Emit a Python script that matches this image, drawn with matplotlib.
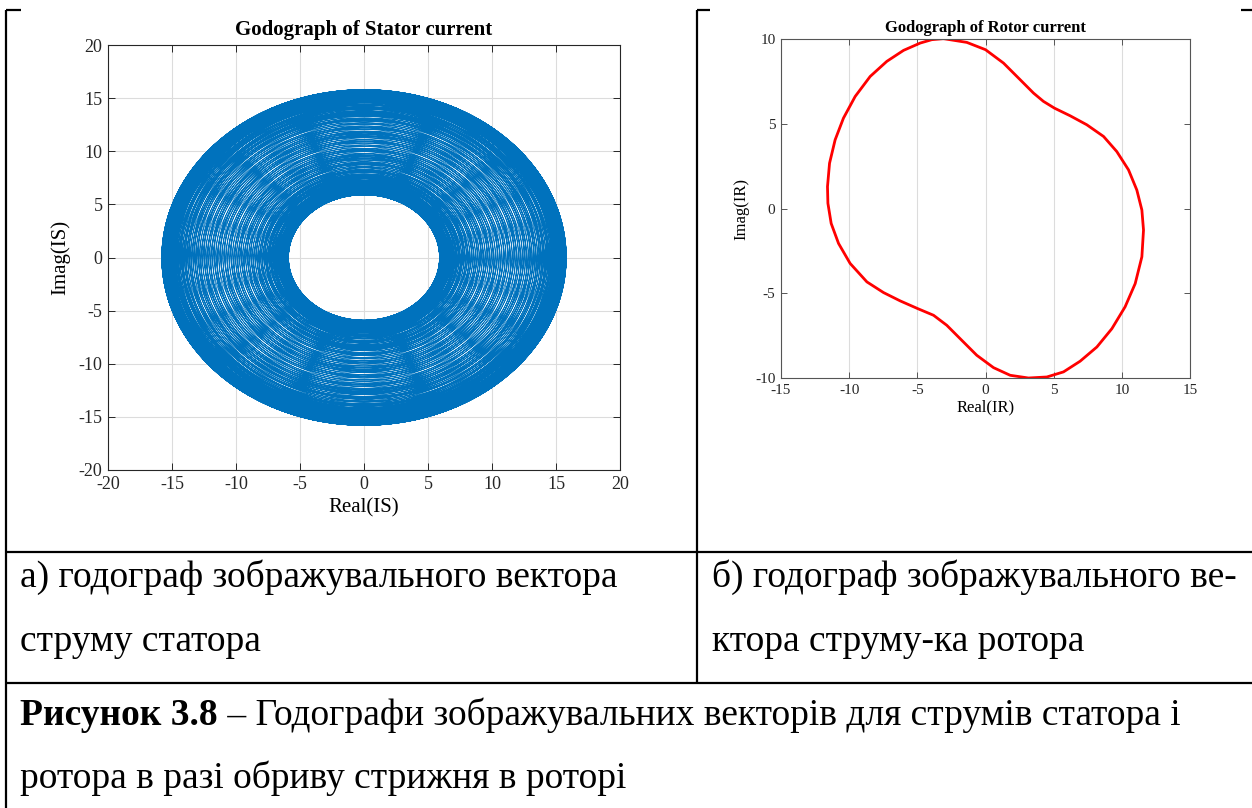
import numpy as np
import matplotlib
matplotlib.use("Agg")
import matplotlib.pyplot as plt
from matplotlib.lines import Line2D

plt.rcParams["font.family"] = ["Liberation Serif", "DejaVu Serif"]
plt.rcParams["axes.unicode_minus"] = False
plt.rcParams["path.simplify"] = False

W, H, DPI = 1252, 808, 100

# ---- Stator current space vector: magnitude envelope and supply data ----
stator_min_amp = 5.9      # A, inner edge of the godograph
stator_max_amp = 15.8     # A, outer edge of the godograph
supply_freq = 50.0        # Hz
slip = 0.034206
sim_time = 5.0            # s
samples_per_period = 240

# ---- Rotor current godograph, one closed period (Real, Imag) ----
rotor_re = [-3.08, -1.37, 0.00, 1.32, 2.54, 3.52, 4.25, 5.06, 6.21, 7.43,
            8.66, 9.63, 10.49, 11.10, 11.47, 11.59, 11.47, 10.98, 10.24, 9.27,
            8.17, 6.94, 5.72, 4.50, 3.15, 1.81, 0.59, -0.64, -1.86, -2.84,
            -3.81, -4.99, -6.26, -7.48, -8.70, -9.93, -10.78, -11.32, -11.56,
            -11.59, -11.44, -11.03, -10.42, -9.56, -8.46, -7.24, -6.01, -4.79,
            -3.94]
rotor_im = [10.02, 9.80, 9.37, 8.58, 7.60, 6.81, 6.32, 5.92, 5.47, 4.94,
            4.25, 3.36, 2.28, 1.09, -0.09, -1.27, -2.85, -4.43, -5.80, -7.09,
            -8.17, -9.01, -9.64, -9.94, -10.00, -9.84, -9.39, -8.66, -7.68, -6.89,
            -6.30, -5.90, -5.45, -4.96, -4.33, -3.24, -2.06, -0.88, 0.31,
            1.29, 2.67, 4.05, 5.33, 6.61, 7.79, 8.68, 9.33, 9.76,
            9.96]

stator_ticks = [-20, -15, -10, -5, 0, 5, 10, 15, 20]
rotor_xticks = [-15, -10, -5, 0, 5, 10, 15]
rotor_yticks = [-10, -5, 0, 5, 10]

caption_a = ["а) годограф зображувального вектора", "струму статора"]
caption_b = ["б) годограф зображувального ве-", "ктора струму-ка ротора"]
figure_label = "Рисунок 3.8"
figure_text = [" – Годографи зображувальних векторів для струмів статора і",
               "ротора в разі обриву стрижня в роторі"]


def fx(px):
    return px / W


def fy(py):
    return 1 - py / H


fig = plt.figure(figsize=(W / DPI, H / DPI), dpi=DPI)
fig.patch.set_facecolor("white")


def style_axes(ax, frame_color, label_size, tick_len):
    for sp in ax.spines.values():
        sp.set_color(frame_color)
        sp.set_linewidth(0.8)
    ax.tick_params(direction="in", top=True, right=True, length=tick_len,
                   width=0.7, color=frame_color, labelsize=label_size,
                   labelcolor="#262626", pad=4)


# ---- Stator godograph: supply-frequency vector, amplitude modulated at 2*s*f ----
ax1 = fig.add_axes([fx(108), fy(470), fx(620) - fx(108), fy(45) - fy(470)])
t = np.arange(0, sim_time, 1.0 / (supply_freq * samples_per_period))
w = 2 * np.pi * supply_freq
i_mean = (stator_max_amp + stator_min_amp) / 2
i_mod = (stator_max_amp - stator_min_amp) / 2
envelope = i_mean + i_mod * np.cos(2 * slip * w * t)
i_s = envelope * np.exp(1j * w * t)
ax1.plot(i_s.real, i_s.imag, color="#0072BD", lw=0.55)
ax1.set_xlim(-20, 20)
ax1.set_ylim(-20, 20)
ax1.set_xticks(stator_ticks)
ax1.set_yticks(stator_ticks)
ax1.grid(True, color="#dcdcdc", lw=0.8)
ax1.set_axisbelow(True)
style_axes(ax1, "#262626", 13, 5)
ax1.set_title("Godograph of Stator current", fontsize=15, fontweight="bold", pad=7)
ax1.set_xlabel("Real(IS)", fontsize=15, labelpad=4)
ax1.set_ylabel("Imag(IS)", fontsize=15, labelpad=6)

# ---- Rotor godograph ----
ax2 = fig.add_axes([fx(781), fy(378), fx(1190) - fx(781), fy(39) - fy(378)])
ax2.plot(rotor_re + rotor_re[:1], rotor_im + rotor_im[:1], color="#ff0000",
         lw=2.0, solid_joinstyle="round")
ax2.set_xlim(-15, 15)
ax2.set_ylim(-10, 10)
ax2.set_xticks(rotor_xticks)
ax2.set_yticks(rotor_yticks)
ax2.grid(True, axis="x", color="#dcdcdc", lw=0.8)
ax2.set_axisbelow(True)
style_axes(ax2, "#555555", 11, 4)
ax2.set_title("Godograph of Rotor current", fontsize=12, fontweight="bold", pad=5)
ax2.set_xlabel("Real(IR)", fontsize=12, labelpad=2)
ax2.set_ylabel("Imag(IR)", fontsize=12, labelpad=4)

# ---- Table rules ----
def rule(x0, y0, x1, y1):
    fig.add_artist(Line2D([fx(x0), fx(x1)], [fy(y0), fy(y1)],
                          transform=fig.transFigure, color="black", lw=1.6,
                          solid_capstyle="butt"))

rule(6, 10, 6, 808)
rule(6, 10, 21, 10)
rule(697, 10, 697, 683)
rule(697, 10, 710, 10)
rule(1241, 10, 1252, 10)
rule(6, 552, 1252, 552)
rule(6, 683, 1252, 683)

# ---- Captions ----
cap_size = 27
fig.text(fx(20), fy(587), caption_a[0], fontsize=cap_size, va="baseline")
fig.text(fx(20), fy(651), caption_a[1], fontsize=cap_size, va="baseline")
fig.text(fx(712), fy(587), caption_b[0], fontsize=cap_size, va="baseline")
fig.text(fx(712), fy(651), caption_b[1], fontsize=cap_size, va="baseline")

lbl = fig.text(fx(20), fy(725), figure_label, fontsize=cap_size,
               fontweight="bold", va="baseline")
renderer = fig.canvas.get_renderer()
bb = lbl.get_window_extent(renderer)
fig.text(bb.x1 / W, fy(725), figure_text[0], fontsize=cap_size, va="baseline")
fig.text(fx(20), fy(788), figure_text[1], fontsize=cap_size, va="baseline")

fig.savefig("out.png", dpi=DPI)
